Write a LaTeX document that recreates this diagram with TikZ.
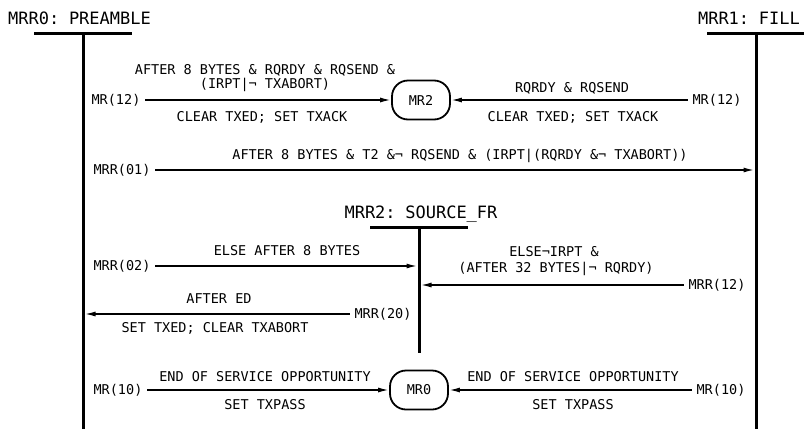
\documentclass[tikz,border=0pt]{standalone}
\usepackage{fontspec}
\newfontfamily\cad{DejaVu Sans Mono}
\usetikzlibrary{arrows.meta}
\begin{document}
\begin{tikzpicture}[x=1pt,y=-1pt,
  lbl/.style={font=\cad\fontsize{13.5}{14}\selectfont, inner sep=0pt, outer sep=5pt, text height=9.8pt, text depth=0pt},
  ttl/.style={font=\cad\fontsize{17}{18}\selectfont, inner sep=0pt, text height=12.4pt, text depth=0pt},
  statebox/.style={draw, line width=1.8pt, rounded corners=16pt, minimum width=58pt, minimum height=39pt, inner sep=0pt, font=\cad\fontsize{13.5}{14}\selectfont},
  life/.style={line width=3pt},
  arr/.style={line width=1.6pt, -{Latex[length=11pt,width=5pt]}},
  arrl/.style={arr, shorten >=1.5pt},
]
\useasboundingbox (0,0) rectangle (804,429);

% titles and lifelines
\node[ttl, anchor=west] (t0) at (8,18) {MRR0:\hspace{-4pt} PREAMBLE};
\node[ttl, anchor=east] (t1) at (800,18) {MRR1:\hspace{-4pt} FILL};
\node[ttl] (t2) at (421,212) {MRR2:\hspace{-4pt} SOURCE\_FR};

\coordinate (b0l) at (34,33);  \coordinate (b0r) at (132,33);
\coordinate (L0t) at (83,33);  \coordinate (L0b) at (83,429);
\coordinate (b1l) at (707,33); \coordinate (b1r) at (804,33);
\coordinate (L1t) at (756,33); \coordinate (L1b) at (756,429);
\coordinate (b2l) at (370,227); \coordinate (b2r) at (468,227);
\coordinate (L2t) at (419,227); \coordinate (L2b) at (419,353);

\draw[life] (b0l) -- (b0r);
\draw[life] (L0t) -- (L0b);
\draw[life] (b1l) -- (b1r);
\draw[life] (L1t) -- (L1b);
\draw[life] (b2l) -- (b2r);
\draw[life] (L2t) -- (L2b);

% states
\node[statebox] (mr2) at (421,100) {MR2};
\node[statebox] (mr0) at (419,390) {MR0};

% row 1
\node[lbl] (s12l) at (116,100) {MR(12)};
\node[lbl] (l1a) at (265,70) {AFTER 8 BYTES \& RQRDY \& RQSEND \&};
\node[lbl] (l1b) at (265,84) {(IRPT|¬ TXABORT)};
\node[lbl] (l1c) at (262,117) {CLEAR TXED; SET TXACK};
\draw[arr] (s12l.east) -- (mr2.west);

\node[lbl] (s12r) at (717,100) {MR(12)};
\node[lbl] (l1d) at (572,88) {RQRDY \& RQSEND};
\node[lbl] (l1e) at (573,117) {CLEAR TXED; SET TXACK};
\draw[arr] (s12r.west) -- (mr2.east);

% row 2
\node[lbl] (r01) at (122,170) {MRR(01)};
\node[lbl] (l2a) at (460,155) {AFTER 8 BYTES \& T2 \&¬ RQSEND \& (IRPT|(RQRDY \&¬ TXABORT))};
\draw[arrl] (r01.east) -- (r01.east -| L1t);

% row 3
\node[lbl] (r02) at (122,266) {MRR(02)};
\node[lbl] (l3a) at (287,251) {ELSE AFTER 8 BYTES};
\draw[arrl] (r02.east) -- (r02.east -| L2t);

\node[lbl] (r12) at (717,285) {MRR(12)};
\node[lbl] (l3b) at (554,252) {ELSE¬IRPT \&};
\node[lbl] (l3c) at (556,268) {(AFTER 32 BYTES|¬ RQRDY)};
\draw[arrl] (r12.west) -- (r12.west -| L2t);

% row 4
\node[lbl] (r20) at (383,314) {MRR(20)};
\node[lbl] (l4a) at (219,299) {AFTER ED};
\node[lbl] (l4b) at (215,328) {SET TXED; CLEAR TXABORT};
\draw[arrl] (r20.west) -- (r20.west -| L0t);

% row 5
\node[lbl] (m10l) at (118,390) {MR(10)};
\node[lbl] (l5a) at (265,377) {END OF SERVICE OPPORTUNITY};
\node[lbl] (l5b) at (265,405) {SET TXPASS};
\draw[arr] (m10l.east) -- (mr0.west);

\node[lbl] (m10r) at (721,390) {MR(10)};
\node[lbl] (l5c) at (573,377) {END OF SERVICE OPPORTUNITY};
\node[lbl] (l5d) at (573,405) {SET TXPASS};
\draw[arr] (m10r.west) -- (mr0.east);
\end{tikzpicture}
\end{document}
